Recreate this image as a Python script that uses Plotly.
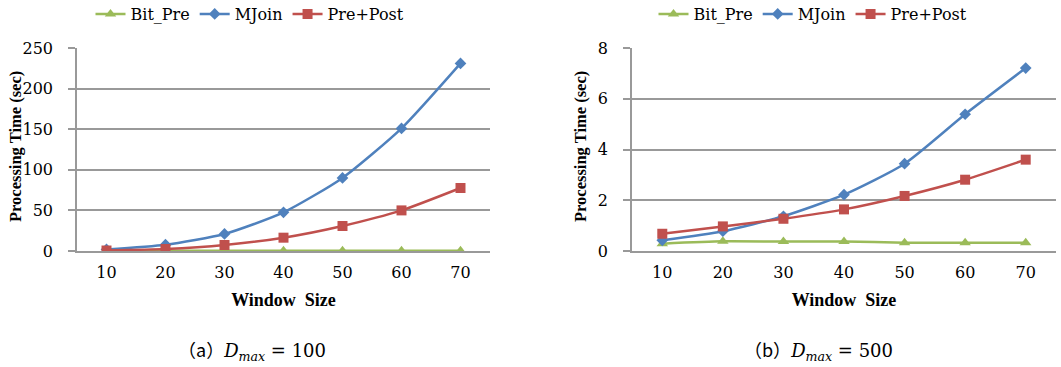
import plotly.graph_objects as go

window_sizes = [10, 20, 30, 40, 50, 60, 70]
series_names = ["Bit_Pre", "MJoin", "Pre+Post"]

# (a) D_max = 100
a_bit_pre = [0.3, 0.3, 0.3, 0.3, 0.3, 0.3, 0.3]
a_mjoin = [2, 7.8, 21, 47.6, 90, 151, 231]
a_prepost = [0.6, 2.5, 7.4, 16.4, 30.8, 50, 77.6]

# (b) D_max = 500
b_bit_pre = [0.29, 0.38, 0.37, 0.37, 0.33, 0.33, 0.33]
b_mjoin = [0.42, 0.78, 1.37, 2.22, 3.44, 5.39, 7.21]
b_prepost = [0.68, 0.97, 1.27, 1.64, 2.17, 2.81, 3.6]

y_ticks_a = [0, 50, 100, 150, 200, 250]
y_ticks_b = [0, 2, 4, 6, 8]

x_title = "<b>Window  Size</b>"
y_title = "<b>Processing Time (sec)</b>"

colors = {"Bit_Pre": "#9BBB59", "MJoin": "#4F81BD", "Pre+Post": "#C0504D"}
symbols = {"Bit_Pre": "triangle-up", "MJoin": "diamond", "Pre+Post": "square"}
msizes = {"Bit_Pre": 10, "MJoin": 9, "Pre+Post": 10}

FONT = "DejaVu Serif"       # regular texts (renders reliably as serif)
BOLD = "Liberation Serif"   # bold axis titles
CJK = "Noto Sans CJK SC"

fig = go.Figure()

for sub, data, leg in [("", [a_bit_pre, a_mjoin, a_prepost], "legend"),
                       ("2", [b_bit_pre, b_mjoin, b_prepost], "legend2")]:
    for name, vals in zip(series_names, data):
        fig.add_trace(go.Scatter(
            x=window_sizes, y=vals, name=name, mode="lines+markers",
            line=dict(color=colors[name], width=2.5, shape="spline", smoothing=0.6),
            marker=dict(symbol=symbols[name], size=msizes[name], color=colors[name]),
            xaxis="x" + sub, yaxis="y" + sub, legend=leg,
        ))

grid = "#999999"
common_x = dict(range=[5, 75], tickvals=window_sizes, showgrid=False,
                showline=True, linecolor=grid, linewidth=1.5, ticks="",
                ticklabelstandoff=6, zeroline=False, automargin=False,
                tickfont=dict(family=FONT, size=16, color="#000"),
                title=dict(text=x_title, standoff=12,
                           font=dict(family=BOLD, size=18, color="#000")))
common_y = dict(showgrid=True, gridcolor=grid, gridwidth=1.5, showline=True,
                linecolor=grid, linewidth=1.5, ticks="outside", ticklen=7,
                tickcolor=grid, tickwidth=1.5, zeroline=False, ticklabelstandoff=12,
                automargin=False,
                tickfont=dict(family=FONT, size=16, color="#000"))

y_bottom = 1 - 251 / 367
y_top = 1 - 48 / 367

fig.update_layout(
    width=1061, height=367,
    margin=dict(l=0, r=0, t=0, b=0, autoexpand=False),
    paper_bgcolor="white", plot_bgcolor="white",
    font=dict(family=FONT, color="#000"),
    xaxis=dict(domain=[77 / 1061, 490 / 1061], anchor="y", **common_x),
    yaxis=dict(domain=[y_bottom, y_top], anchor="x", range=[0, 250],
               tickvals=y_ticks_a, **common_y),
    xaxis2=dict(domain=[632 / 1061, 1056 / 1061], anchor="y2", **common_x),
    yaxis2=dict(domain=[y_bottom, y_top], anchor="x2", range=[0, 8],
                tickvals=y_ticks_b, **common_y),
    legend=dict(orientation="h", x=250 / 1061, xanchor="center", y=1 - 14 / 367, yanchor="middle",
                font=dict(family=FONT, size=16, color="#000"), itemwidth=30,
                bgcolor="rgba(0,0,0,0)"),
    legend2=dict(orientation="h", x=813 / 1061, xanchor="center", y=1 - 14 / 367, yanchor="middle",
                 font=dict(family=FONT, size=16, color="#000"), itemwidth=30,
                 bgcolor="rgba(0,0,0,0)"),
    showlegend=True,
)

# y-axis titles (rotated), placed beside each panel
for xc in (15, 580):
    fig.add_annotation(text=y_title, x=xc / 1061, y=1 - 147 / 367, textangle=-90,
                       xref="paper", yref="paper", showarrow=False,
                       xanchor="center", yanchor="middle",
                       font=dict(family=BOLD, size=16.5, color="#000"))

cap_a = (f"<span style='font-family:{CJK}'>（a）</span>"
         "<i>D</i><sub><i>max</i></sub> = 100")
cap_b = (f"<span style='font-family:{CJK}'>（b）</span>"
         "<i>D</i><sub><i>max</i></sub> = 500")
fig.add_annotation(text=cap_a, x=252 / 1061, y=1 - 350 / 367,
                   xref="paper", yref="paper", showarrow=False,
                   xanchor="center", yanchor="middle",
                   font=dict(family=FONT, size=18, color="#000"))
fig.add_annotation(text=cap_b, x=818 / 1061, y=1 - 350 / 367,
                   xref="paper", yref="paper", showarrow=False,
                   xanchor="center", yanchor="middle",
                   font=dict(family=FONT, size=18, color="#000"))

fig.write_html("out.html", config={"displayModeBar": False},
               post_script="document.body.style.margin='0';")
